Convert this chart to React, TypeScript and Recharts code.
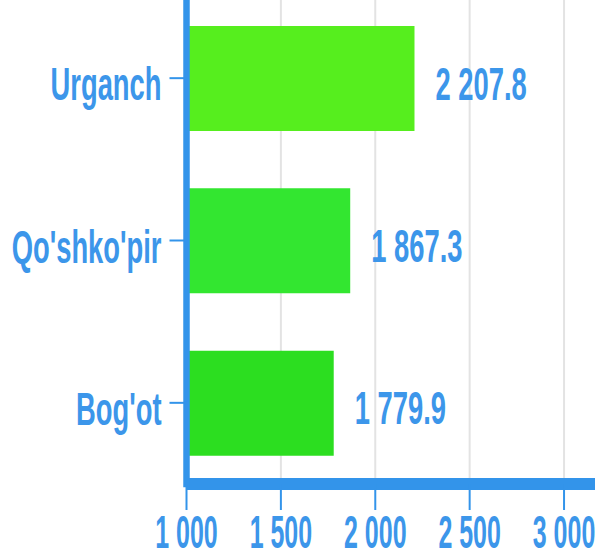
import { BarChart, Bar, XAxis, YAxis, CartesianGrid, Cell, LabelList } from 'recharts';

const districts = ['Urganch', "Qo'shko'pir", "Bog'ot"];
const values = [2207.8, 1867.3, 1779.9];
const barColors = ['#56ee1e', '#33e630', '#2cde20'];
const xTicks = [1000, 1500, 2000, 2500, 3000];

const data = districts.map((name, i) => ({ name, value: values[i] }));

const BLUE = '#3394ea';
const TEXT_BLUE = '#3c96ea';
const FONT = '"Liberation Sans", Arial, sans-serif';
const FONT_SIZE = 46;
const SQUEEZE = 0.595;

function spaced(n: number, digits = 0) {
    const [int, dec] = n.toFixed(digits).split('.');
    const withSpaces = int.replace(/\B(?=(\d{3})+(?!\d))/g, ' ');
    return dec ? `${withSpaces}.${dec}` : withSpaces;
}

function CategoryTick({ x, y, payload }: any) {
    return (
        <text
            transform={`translate(${x},${y + 22}) scale(${SQUEEZE},1)`}
            textAnchor="end"
            fontSize={FONT_SIZE}
            fontWeight="bold"
            fontFamily={FONT}
            fill={TEXT_BLUE}
        >
            {payload.value}
        </text>
    );
}

function ValueTick({ x, y, payload }: any) {
    return (
        <text
            transform={`translate(${x},${y + 36}) scale(0.543,1)`}
            textAnchor="middle"
            fontSize={FONT_SIZE}
            fontWeight="bold"
            fontFamily={FONT}
            fill={TEXT_BLUE}
        >
            {spaced(payload.value)}
        </text>
    );
}

function ValueLabel({ x, y, width, height, value }: any) {
    return (
        <text
            transform={`translate(${x + width + 21},${y + height / 2 + 21}) scale(${SQUEEZE},1)`}
            fontSize={FONT_SIZE}
            fontWeight="bold"
            fontFamily={FONT}
            fill={TEXT_BLUE}
        >
            {spaced(value, 1)}
        </text>
    );
}

export default function App() {
    return (
        <div style={{ position: 'absolute', left: 0, top: -20 }}>
            <BarChart
                width={595}
                height={576}
                data={data}
                layout="vertical"
                margin={{ top: 17, right: 0, bottom: 0, left: 0 }}
            >
                {/* syncWithTicks keeps the grid on the tick values only */}
                <CartesianGrid horizontal={false} syncWithTicks stroke="#e3e3e3" strokeWidth={2} />
                <XAxis
                    type="number"
                    domain={[1000, 3164]}
                    ticks={xTicks}
                    height={72}
                    axisLine={{ stroke: BLUE, strokeWidth: 12 }}
                    tickLine={{ stroke: BLUE, strokeWidth: 2 }}
                    tickSize={26}
                    tickMargin={2}
                    tick={<ValueTick />}
                    interval={0}
                />
                <YAxis
                    type="category"
                    dataKey="name"
                    width={186.5}
                    axisLine={{ stroke: BLUE, strokeWidth: 6.5, strokeLinecap: 'square' }}
                    tickLine={{ stroke: BLUE, strokeWidth: 2 }}
                    tickSize={17}
                    tickMargin={8}
                    tick={<CategoryTick />}
                    interval={0}
                />
                <Bar dataKey="value" barSize={105} isAnimationActive={false}>
                    {data.map((d, i) => (
                        <Cell key={d.name} fill={barColors[i]} />
                    ))}
                    <LabelList dataKey="value" content={<ValueLabel />} />
                </Bar>
            </BarChart>
        </div>
    );
}
